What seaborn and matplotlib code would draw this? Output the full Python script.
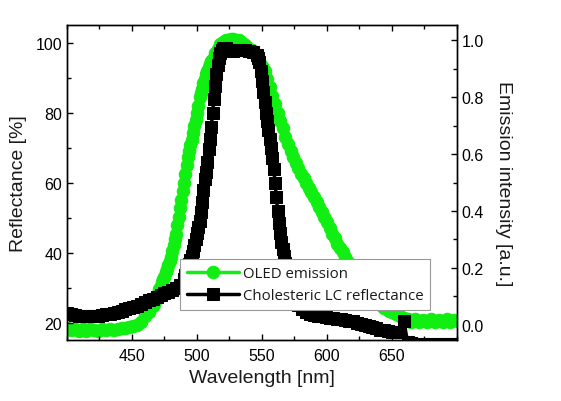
import numpy as np
import pandas as pd
import seaborn as sns
import matplotlib
matplotlib.use('Agg')
import matplotlib.pyplot as plt
from matplotlib.ticker import MultipleLocator

# cholesteric LC reflectance (left axis, %), read every 3 nm, every 1 nm on the steep edges
lc_wl = (list(range(400, 490, 3)) + list(range(490, 522)) + list(range(522, 546, 3))
         + list(range(546, 578)) + list(range(578, 702, 3)))
lc_refl = [22.6, 22.4, 22.2, 22.0, 21.9, 21.8, 21.8, 21.8, 21.9, 22.1,
           22.3, 22.5, 22.8, 23.1, 23.4, 23.8, 24.1, 24.4, 24.8, 25.3,
           25.8, 26.3, 26.8, 27.3, 27.8, 28.3, 28.7, 29.2, 29.8, 30.8,
           32.5, 33.5, 34.5, 35.5, 36.7, 37.8, 39.0, 40.5, 42.2, 44.0,
           45.7, 47.3, 49.0, 51.5, 54.5, 58.0, 61.0, 63.0, 66.0, 69.5,
           72.5, 76.0, 80.0, 84.0, 87.5, 91.0, 93.5, 95.5, 97.0, 98.0,
           98.3, 98.5,
           98.5, 97.8, 97.5, 97.8, 98.0, 97.8, 97.5, 97.2,
           96.5, 95.5, 94.5, 92.0, 89.0, 86.0, 83.0, 80.0, 77.5, 75.0,
           72.5, 70.0, 67.0, 64.0, 60.0, 56.0, 52.0, 48.5, 45.5, 43.0,
           41.0, 39.0, 37.0, 35.3, 33.8, 32.3, 31.0, 29.8, 28.7, 27.6,
           26.6, 25.8,
           25.0, 23.8, 23.0, 22.5, 22.2, 22.0, 21.8, 21.6, 21.4, 21.2,
           21.0, 20.9, 20.7, 20.5, 20.3, 20.0, 19.6, 19.2, 18.9, 18.6,
           18.3, 18.0, 17.8, 17.6, 17.4, 17.3, 17.2, 20.5, 14.5, 14.2,
           14.0, 14.0, 14.0, 14.0, 14.0, 14.0, 14.0, 14.0, 14.0, 14.0,
           14.0, 14.0]

# OLED emission (right axis, a.u.)
oled_wl = (list(range(400, 466, 3)) + list(range(466, 512)) + list(range(512, 650, 2))
           + list(range(650, 702, 3)))
oled_em = [-0.012, -0.018, -0.014, -0.020, -0.016, -0.020, -0.014, -0.018, -0.020, -0.015,
           -0.018, -0.014, -0.018, -0.013, -0.012, -0.010, -0.008, -0.004, 0.000, 0.010,
           0.030, 0.045,
           0.065, 0.075, 0.085, 0.100, 0.110, 0.125, 0.135, 0.150, 0.160, 0.170,
           0.185, 0.195, 0.210, 0.225, 0.240, 0.260, 0.280, 0.300, 0.320, 0.350,
           0.380, 0.410, 0.440, 0.470, 0.500, 0.530, 0.560, 0.590, 0.610, 0.630,
           0.650, 0.675, 0.700, 0.720, 0.745, 0.770, 0.800, 0.815, 0.830, 0.850,
           0.865, 0.880, 0.890, 0.905, 0.915, 0.925,
           0.935, 0.955, 0.970, 0.985, 0.995, 1.000, 1.000, 1.005, 1.005, 1.000,
           1.000, 0.995, 0.985, 0.980, 0.970, 0.965, 0.955, 0.940, 0.925, 0.910,
           0.890, 0.865, 0.835, 0.805, 0.775, 0.745, 0.715, 0.690, 0.660, 0.635,
           0.610, 0.590, 0.570, 0.550, 0.530, 0.515, 0.500, 0.480, 0.465, 0.450,
           0.430, 0.415, 0.395, 0.380, 0.360, 0.340, 0.320, 0.305, 0.285, 0.270,
           0.255, 0.240, 0.220, 0.205, 0.190, 0.175, 0.160, 0.145, 0.130, 0.120,
           0.110, 0.100, 0.090, 0.082, 0.075, 0.068, 0.060, 0.055, 0.050,
           0.045, 0.038, 0.030, 0.025, 0.020, 0.012, 0.020, 0.010, 0.018, 0.012,
           0.020, 0.010, 0.018, 0.010, 0.020, 0.012, 0.018, 0.015]

assert len(lc_wl) == len(lc_refl) and len(oled_wl) == len(oled_em)

green = '#11ee11'

sns.set_style('ticks')
plt.rcParams['font.family'] = ['Liberation Sans', 'DejaVu Sans']
plt.rcParams['axes.linewidth'] = 1.0
plt.rcParams['axes.edgecolor'] = 'black'
plt.rcParams['xtick.color'] = 'black'
plt.rcParams['ytick.color'] = 'black'
plt.rcParams['text.color'] = '#1a1a1a'
plt.rcParams['axes.labelcolor'] = '#1a1a1a'

fig = plt.figure(figsize=(5.61, 4.02), dpi=100)
ax = fig.add_axes([0.1194, 0.1517, 0.6952, 0.7836])
ax2 = ax.twinx()

sns.lineplot(x=oled_wl, y=oled_em, ax=ax2, color=green, marker='o', markersize=9,
             markeredgecolor=green, linewidth=2.5, label='OLED emission', legend=False)
sns.lineplot(x=lc_wl, y=lc_refl, ax=ax, color='black', marker='s', markersize=8.5,
             markeredgecolor='black', linewidth=2.5, label='Cholesteric LC reflectance', legend=False)

# reflectance curve sits on top of emission curve
ax.set_zorder(ax2.get_zorder() + 1)
ax.patch.set_visible(False)

ax.set_xlim(400, 700)
ax.set_ylim(15, 105)
ax2.set_ylim(-0.053, 1.053)

ax.xaxis.set_minor_locator(MultipleLocator(25))
ax.yaxis.set_major_locator(MultipleLocator(20))
ax.yaxis.set_minor_locator(MultipleLocator(10))
ax2.yaxis.set_major_locator(MultipleLocator(0.2))
ax2.yaxis.set_minor_locator(MultipleLocator(0.1))
ax.set_xticks([450, 500, 550, 600, 650])

ax.tick_params(axis='x', which='both', direction='in', top=True, bottom=True, labelsize=11.5, pad=6)
ax.tick_params(axis='y', which='both', direction='in', left=True, right=False, labelsize=11.5)
ax2.tick_params(axis='y', which='both', direction='in', right=True, labelsize=11.5)
for a in (ax, ax2):
    a.tick_params(which='major', length=4, width=1)
    a.tick_params(which='minor', length=3, width=1)

ax.set_xlabel('Wavelength [nm]', fontsize=14, labelpad=4)
ax.set_ylabel('Reflectance [%]', fontsize=14, labelpad=6)
ax2.set_ylabel('Emission intensity [a.u.]', fontsize=14, rotation=270, labelpad=20)

h1, l1 = ax2.get_legend_handles_labels()
h2, l2 = ax.get_legend_handles_labels()
leg = ax.legend(h1 + h2, l1 + l2, loc='upper left', bbox_to_anchor=(0.321, 0.353),
                bbox_transform=fig.transFigure, borderaxespad=0, frameon=True, fancybox=False,
                framealpha=1, edgecolor='#999999', handlelength=3.5, handletextpad=0.25,
                borderpad=0.45, labelspacing=0.5,
                prop={'family': ['Open Sans', 'DejaVu Sans'], 'size': 10.8})
leg.get_frame().set_linewidth(0.8)

fig.savefig('out.png', dpi=100)
